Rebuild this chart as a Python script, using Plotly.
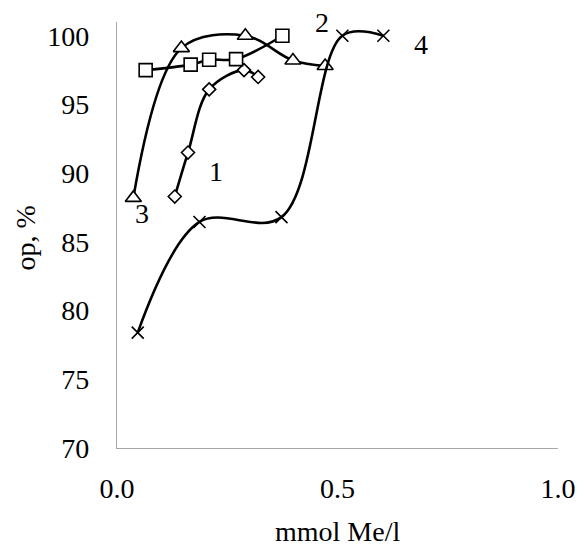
import plotly.graph_objects as go

# Concentration of metal, mmol Me/l, and degree of removal, %
x1 = [0.131, 0.161, 0.209, 0.288, 0.320]
y1 = [88.3, 91.5, 96.1, 97.5, 97.0]

x2 = [0.065, 0.167, 0.209, 0.270, 0.375]
y2 = [97.5, 97.9, 98.25, 98.3, 100.0]

x3 = [0.037, 0.146, 0.291, 0.399, 0.472]
y3 = [88.2, 99.1, 100.0, 98.2, 97.8]

x4 = [0.047, 0.187, 0.373, 0.511, 0.604]
y4 = [78.4, 86.45, 86.8, 100.0, 100.0]

curve_names = ["1", "2", "3", "4"]
label_x = [0.224, 0.465, 0.056, 0.689]
label_y = [90.1, 100.98, 87.1, 99.35]

x_ticks = [0.0, 0.5, 1.0]
y_ticks = [70, 75, 80, 85, 90, 95, 100]

FONT = "Liberation Serif, Times New Roman, serif"
SIZE = 28

series = [
    (x1, y1, "diamond", 10),
    (x2, y2, "square", 13),
    (x3, y3, "triangle-up", 14),
    (x4, y4, "x-thin", 12),
]

fig = go.Figure()
for (xs, ys, sym, sz), name in zip(series, curve_names):
    marker = dict(symbol=sym, size=sz, color="white",
                  line=dict(color="black", width=1.6))
    if sym == "x-thin":
        marker = dict(symbol=sym, size=sz, color="black",
                      line=dict(color="black", width=1.6))
    fig.add_trace(go.Scatter(
        x=xs, y=ys, name=name, mode="lines+markers",
        line=dict(color="black", width=2.6, shape="spline", smoothing=1),
        marker=marker, cliponaxis=False, showlegend=False,
    ))

for name, lx, ly in zip(curve_names, label_x, label_y):
    fig.add_annotation(x=lx, y=ly, text=name, showarrow=False,
                       xanchor="center", yanchor="middle",
                       font=dict(family=FONT, size=SIZE, color="black"))

fig.add_annotation(xref="paper", yref="paper", x=(339 - 117) / 444,
                   y=(448.5 - 532) / 426.8, text="mmol Me/l", showarrow=False,
                   xanchor="center", yanchor="middle",
                   font=dict(family=FONT, size=SIZE, color="black"))
fig.add_annotation(xref="paper", yref="paper", x=(25 - 117) / 444,
                   y=(448.5 - 238) / 426.8, text="op, %", textangle=-90,
                   showarrow=False, xanchor="center", yanchor="middle",
                   font=dict(family=FONT, size=SIZE, color="black"))

fig.update_layout(
    width=588, height=547,
    margin=dict(l=117, r=27, t=22, b=98.5),
    paper_bgcolor="white", plot_bgcolor="white",
    font=dict(family=FONT, size=SIZE, color="black"),
)
fig.update_xaxes(
    range=[0, 1], tickvals=x_ticks, tickformat=".1f",
    showgrid=False, zeroline=False, showline=True,
    linecolor="#a6a6a6", linewidth=1.3, ticks="",
    ticklabelstandoff=15,
)
fig.update_yaxes(
    range=[70, 101], tickvals=y_ticks,
    showgrid=False, zeroline=False, showline=True,
    linecolor="#a6a6a6", linewidth=1.3, ticks="",
    ticklabelstandoff=21,
)

fig.write_html("out.html")
